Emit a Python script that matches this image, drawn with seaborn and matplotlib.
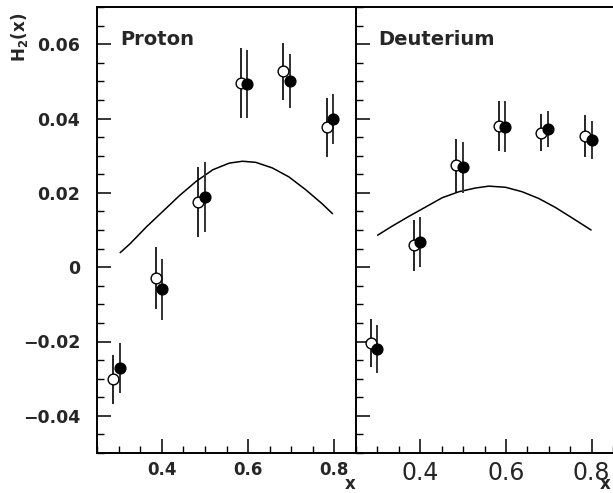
import numpy as np
import pandas as pd
import matplotlib
matplotlib.use("Agg")
import matplotlib.pyplot as plt
import seaborn as sns
from matplotlib.ticker import FixedLocator, MultipleLocator

sns.set_style("ticks")
plt.rcParams['font.family'] = ['DejaVu Sans']
plt.rcParams['mathtext.default'] = 'regular'

# ---- Proton data ----
p_x_open = [0.287, 0.386, 0.485, 0.584, 0.682, 0.782]
p_y_open = [-0.0302, -0.0030, 0.0175, 0.0496, 0.0527, 0.0376]
p_e_open = [0.0067, 0.0083, 0.0095, 0.0095, 0.0076, 0.0079]
p_x_fill = [0.303, 0.401, 0.501, 0.598, 0.698, 0.797]
p_y_fill = [-0.0271, -0.0059, 0.0189, 0.0493, 0.0501, 0.0399]
p_e_fill = [0.0067, 0.0082, 0.0094, 0.0091, 0.0072, 0.0068]
p_curve_x = [0.3036, 0.3266, 0.365, 0.4033, 0.4415, 0.4799, 0.5182, 0.5565,
             0.5872, 0.6178, 0.6562, 0.6944, 0.7328, 0.7712, 0.7955]
p_curve_y = [0.0039, 0.0063, 0.0109, 0.0151, 0.0193, 0.0231, 0.0262, 0.0280,
             0.0285, 0.0282, 0.0267, 0.0243, 0.0209, 0.0171, 0.0144]

# ---- Deuterium data ----
d_x_open = [0.285, 0.385, 0.484, 0.585, 0.683, 0.784]
d_y_open = [-0.0204, 0.0059, 0.0274, 0.0380, 0.0362, 0.0353]
d_e_open = [0.0065, 0.0068, 0.0071, 0.0067, 0.0050, 0.0056]
d_x_fill = [0.300, 0.400, 0.500, 0.599, 0.699, 0.800]
d_y_fill = [-0.0220, 0.0068, 0.0269, 0.0378, 0.0372, 0.0341]
d_e_fill = [0.0064, 0.0068, 0.0069, 0.0068, 0.0049, 0.0051]
d_curve_x = [0.3004, 0.3353, 0.3740, 0.4128, 0.4516, 0.4903, 0.5291, 0.5600,
             0.5988, 0.6377, 0.6763, 0.7151, 0.7539, 0.7988]
d_curve_y = [0.0086, 0.0111, 0.0137, 0.0162, 0.0187, 0.0203, 0.0213, 0.0218,
             0.0215, 0.0203, 0.0185, 0.0161, 0.0133, 0.0100]

panel_titles = ["Proton", "Deuterium"]
x_major = [0.4, 0.6, 0.8]
x_labels = ["0.4", "0.6", "0.8"]
y_major = [-0.04, -0.02, 0.0, 0.02, 0.04, 0.06]
y_labels = ["\u22120.04", "\u22120.02", "0", "0.02", "0.04", "0.06"]

W, H = 613, 493
fig = plt.figure(figsize=(W / 100, H / 100), dpi=100)
bottom = (H - 453) / H
height = 446 / H
ax1 = fig.add_axes([97 / W, bottom, 259 / W, height])
ax2 = fig.add_axes([356 / W, bottom, 257 / W, height])

sets = [
    (ax1, p_x_open, p_y_open, p_e_open, p_x_fill, p_y_fill, p_e_fill, p_curve_x, p_curve_y),
    (ax2, d_x_open, d_y_open, d_e_open, d_x_fill, d_y_fill, d_e_fill, d_curve_x, d_curve_y),
]

for i, (ax, xo, yo, eo, xf, yf, ef, cx, cy) in enumerate(sets):
    curve = pd.DataFrame({"x": cx, "y": cy})
    sns.lineplot(data=curve, x="x", y="y", ax=ax, color="black", lw=1.1, sort=True, zorder=2)
    ax.errorbar(xo, yo, yerr=eo, fmt="none", ecolor="black", elinewidth=1.2, capsize=0, zorder=3)
    ax.errorbar(xf, yf, yerr=ef, fmt="none", ecolor="#333333", elinewidth=1.4, capsize=0, zorder=3)
    opn = pd.DataFrame({"x": xo, "y": yo})
    fil = pd.DataFrame({"x": xf, "y": yf})
    sns.scatterplot(data=opn, x="x", y="y", ax=ax, s=60, facecolor="white",
                    edgecolor="black", linewidth=1.0, zorder=4)
    sns.scatterplot(data=fil, x="x", y="y", ax=ax, s=60, color="black",
                    edgecolor="black", linewidth=1.0, zorder=5)

    ax.set_xlim(0.25, 0.85)
    ax.set_ylim(-0.05, 0.07)
    ax.set_xlabel("")
    ax.set_ylabel("")
    ax.xaxis.set_major_locator(FixedLocator(x_major))
    ax.xaxis.set_minor_locator(MultipleLocator(0.05))
    ax.yaxis.set_major_locator(FixedLocator(y_major))
    ax.yaxis.set_minor_locator(MultipleLocator(0.005))
    ax.tick_params(which="major", direction="in", length=10, width=1.1, color="black")
    ax.tick_params(which="minor", direction="in", length=5, width=1.0, color="black")
    ax.tick_params(axis="x", which="both", top=False)
    ax.tick_params(axis="y", which="both", right=False)
    for side in ["left", "bottom", "top"]:
        ax.spines[side].set_linewidth(1.4)
        ax.spines[side].set_color("black")
    ax.spines["right"].set_visible(False)
    ax.text(0.088, 0.915, panel_titles[i], transform=ax.transAxes,
            fontsize=14, fontweight="bold", ha="left", va="baseline")

ax1.set_xticklabels(x_labels, fontsize=12, fontweight="bold")
ax1.set_yticklabels(y_labels, fontsize=12.5, fontweight="bold")
ax1.tick_params(axis="x", which="major", pad=6)
ax1.tick_params(axis="y", which="major", pad=12)
ax2.set_xticklabels(x_labels, fontsize=17)
ax2.tick_params(axis="x", which="major", pad=6)
ax2.set_yticklabels([])

fig.text(350 / W, 1 - 484 / H, "x", fontsize=12, fontweight="bold", ha="center", va="center")
fig.text(605 / W, 1 - 484 / H, "x", fontsize=12, fontweight="bold", ha="center", va="center")
fig.text(20 / W, 1 - 37 / H, "H$_2$(x)", fontsize=12, fontweight="bold",
         rotation=90, ha="center", va="center")

fig.savefig("out.png", dpi=100)
